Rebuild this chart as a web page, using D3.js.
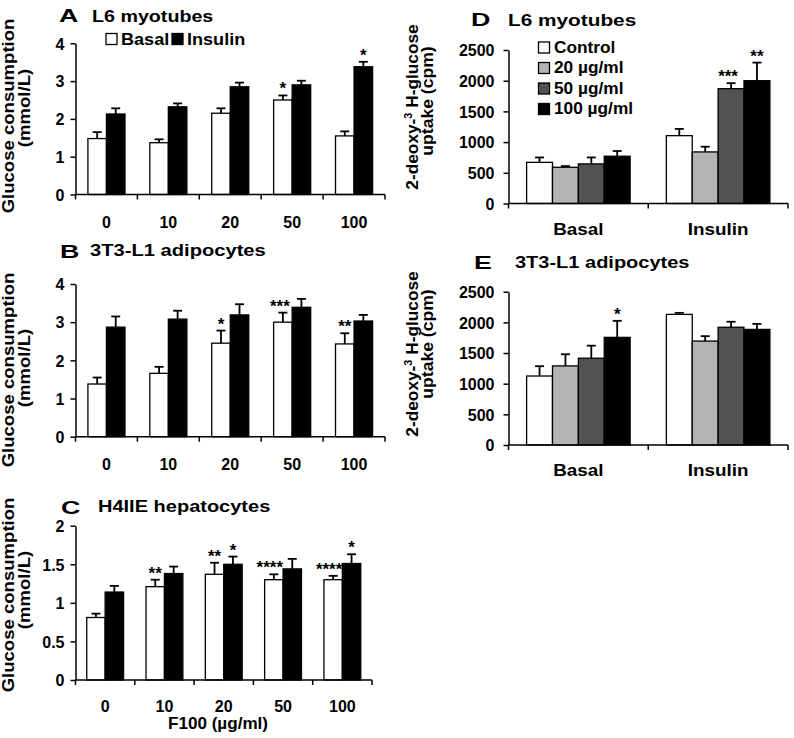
<!DOCTYPE html>
<html><head><meta charset="utf-8">
<script src="https://cdn.jsdelivr.net/npm/d3@7"></script>
<style>
body{margin:0;background:#fff}
svg text{font-family:"Liberation Sans",Arial,Helvetica,sans-serif;font-weight:bold;fill:#000}
</style>
</head><body>
<svg id="chart" width="794" height="738"></svg>
<script>
// ---------------- DATA ----------------
const doses = ["0", "10", "20", "50", "100"];
const acSeries = ["Basal", "Insulin"];

// Panel A: L6 myotubes, glucose consumption (mmol/L)
const aBasal      = [1.48, 1.37, 2.15, 2.50, 1.55];
const aBasalErr   = [0.17, 0.09, 0.13, 0.12, 0.12];
const aBasalSig   = ["", "", "", "*", ""];
const aInsulin    = [2.13, 2.32, 2.85, 2.90, 3.38];
const aInsulinErr = [0.15, 0.09, 0.11, 0.11, 0.13];
const aInsulinSig = ["", "", "", "", "*"];

// Panel B: 3T3-L1 adipocytes
const bBasal      = [1.38, 1.66, 2.45, 3.00, 2.43];
const bBasalErr   = [0.17, 0.17, 0.33, 0.25, 0.28];
const bBasalSig   = ["", "", "*", "***", "**"];
const bInsulin    = [2.87, 3.08, 3.19, 3.39, 3.03];
const bInsulinErr = [0.28, 0.22, 0.28, 0.22, 0.16];
const bInsulinSig = ["", "", "", "", ""];

// Panel C: H4IIE hepatocytes
const cBasal      = [0.81, 1.21, 1.37, 1.30, 1.30];
const cBasalErr   = [0.05, 0.09, 0.15, 0.07, 0.05];
const cBasalSig   = ["", "**", "**", "****", "****"];
const cInsulin    = [1.14, 1.38, 1.50, 1.44, 1.51];
const cInsulinErr = [0.08, 0.09, 0.10, 0.13, 0.12];
const cInsulinSig = ["", "", "*", "", "*"];

const acTicks = [0, 1, 2, 3, 4];
const cTicks = [0, 0.5, 1, 1.5, 2];

// Panels D/E: 2-deoxy-3H-glucose uptake (cpm)
const deGroups = ["Basal", "Insulin"];
const deSeries = ["Control", "20 µg/ml", "50 µg/ml", "100 µg/ml"];

const dControl = [670, 1105];   const dControlErr = [80, 110];  const dControlSig = ["", ""];
const d20      = [590, 840];    const d20Err      = [20, 85];   const d20Sig      = ["", ""];
const d50      = [645, 1870];   const d50Err      = [105, 90];  const d50Sig      = ["", "***"];
const d100     = [770, 2000];   const d100Err     = [85, 295];  const d100Sig     = ["", "**"];

const eControl = [1125, 2130];  const eControlErr = [160, 25];  const eControlSig = ["", ""];
const e20      = [1290, 1695];  const e20Err      = [190, 80];  const e20Sig      = ["", ""];
const e50      = [1415, 1920];  const e50Err      = [205, 90];  const e50Sig      = ["", ""];
const e100     = [1755, 1885];  const e100Err     = [270, 90];  const e100Sig     = ["*", ""];

const deTicks = [0, 500, 1000, 1500, 2000, 2500];

// ---------------- STYLE ----------------
const acFills = ["#ffffff", "#000000"];
const deFills = ["#ffffff", "#b4b4b4", "#525252", "#000000"];

const svg = d3.select("#chart");

function stext(parent, x, y, str, size, sx, anchor, rot) {
  const g = parent.append("g")
    .attr("transform", `translate(${x},${y}) rotate(${rot || 0}) scale(${sx || 1},1)`);
  return g.append("text").attr("x", 0).attr("y", 0)
    .attr("font-size", size).attr("text-anchor", anchor || "start").text(str);
}

function panel(cfg) {
  const g = svg.append("g");
  const y = d3.scaleLinear().domain([0, cfg.yMax]).range([cfg.yBottom, cfg.yTop]);
  const x = d3.scaleBand().domain(cfg.categories).range([cfg.x0, cfg.x1]).padding(0);
  const inner = d3.scaleBand().domain(cfg.series).range([0, x.bandwidth()])
    .paddingInner(0).paddingOuter(cfg.outerPad);

  const rows = [];
  cfg.categories.forEach((c, ci) => {
    cfg.series.forEach((s, si) => {
      rows.push({c, s, si, v: cfg.values[si][ci], e: cfg.errs[si][ci], sig: cfg.sigs[si][ci]});
    });
  });

  const eb = g.append("g").attr("stroke", "#000").attr("stroke-width", 1.8);
  rows.forEach(r => {
    const cx = x(r.c) + inner(r.s) + inner.bandwidth() / 2;
    eb.append("line").attr("x1", cx).attr("x2", cx).attr("y1", y(r.v)).attr("y2", y(r.v + r.e));
    eb.append("line").attr("x1", cx - 4.5).attr("x2", cx + 4.5).attr("y1", y(r.v + r.e)).attr("y2", y(r.v + r.e));
  });

  g.append("g").selectAll("rect").data(rows).join("rect")
    .attr("x", d => x(d.c) + inner(d.s))
    .attr("y", d => y(d.v))
    .attr("width", inner.bandwidth())
    .attr("height", d => y(0) - y(d.v))
    .attr("fill", d => cfg.fills[d.si])
    .attr("stroke", "#000").attr("stroke-width", 1.3);

  rows.filter(r => r.sig).forEach(r => {
    const left = x(r.c) + inner(r.s);
    const cx = left + inner.bandwidth() / 2;
    const long = r.sig.length > 3;
    const mid = r.sig.length === 3;
    g.append("text")
      .attr("x", long ? left + inner.bandwidth() : (mid ? cx - 3 : cx))
      .attr("y", y(r.v + r.e) - 1)
      .attr("text-anchor", long ? "end" : "middle")
      .attr("font-size", 17).text(r.sig);
  });

  const ya = g.append("g").attr("transform", `translate(${cfg.x0},0)`)
    .call(d3.axisLeft(y).tickValues(cfg.yTicks).tickSize(5).tickSizeOuter(0)
      .tickPadding(cfg.tickPad).tickFormat(d => String(d)));
  ya.selectAll("path,line").attr("stroke", "#000").attr("stroke-width", 1.5);
  ya.selectAll("text").attr("font-size", 16).attr("font-family", null).attr("dy", "0.36em");
  ya.attr("font-family", null).attr("font-size", null);

  const xa = g.append("g");
  xa.append("line").attr("x1", cfg.x0).attr("x2", cfg.x1).attr("y1", y(0)).attr("y2", y(0))
    .attr("stroke", "#000").attr("stroke-width", 1.5);
  const bounds = cfg.categories.map(c => x(c)).concat([cfg.x1]);
  xa.selectAll("line.b").data(bounds).join("line").attr("class", "b")
    .attr("x1", d => d).attr("x2", d => d).attr("y1", y(0)).attr("y2", y(0) + 5)
    .attr("stroke", "#000").attr("stroke-width", 1.5);
  cfg.categories.forEach(c => {
    stext(g, x(c) + x.bandwidth() / 2, y(0) + cfg.labelOff, c, 16, cfg.catSx, "middle");
  });
  return {x, y, g};
}

// ---------------- PANEL A ----------------
panel({x0: 75.5, x1: 385, yTop: 43.3, yBottom: 194.5, yMax: 4, yTicks: acTicks,
  categories: doses, series: acSeries, outerPad: 0.67,
  values: [aBasal, aInsulin], errs: [aBasalErr, aInsulinErr], sigs: [aBasalSig, aInsulinSig],
  fills: acFills, tickPad: 6, labelOff: 33, catSx: 1.0});
stext(svg, 59, 22, "A", 18.5, 1.45);
stext(svg, 92, 21.5, "L6 myotubes", 16, 1.23);
acSeries.forEach((s, i) => {
  const lx = [106, 172][i];
  svg.append("rect").attr("x", lx).attr("y", 33.5).attr("width", 11).attr("height", 11)
    .attr("fill", acFills[i]).attr("stroke", "#000").attr("stroke-width", 1.3);
  stext(svg, lx + 15, 44.5, s, 16, 1.13);
});
stext(svg, 14, 116, "Glucose consumption", 16, 1.16, "middle", -90);
stext(svg, 30, 108, "(mmol/L)", 16, 1.16, "middle", -90);

// ---------------- PANEL B ----------------
panel({x0: 75.5, x1: 385, yTop: 284, yBottom: 436.7, yMax: 4, yTicks: acTicks,
  categories: doses, series: acSeries, outerPad: 0.67,
  values: [bBasal, bInsulin], errs: [bBasalErr, bInsulinErr], sigs: [bBasalSig, bInsulinSig],
  fills: acFills, tickPad: 6, labelOff: 33, catSx: 1.0});
stext(svg, 60, 257.5, "B", 18.5, 1.45);
stext(svg, 90, 256, "3T3-L1 adipocytes", 16, 1.26);
stext(svg, 14, 370, "Glucose consumption", 16, 1.16, "middle", -90);
stext(svg, 30, 368, "(mmol/L)", 16, 1.16, "middle", -90);

// ---------------- PANEL C ----------------
panel({x0: 75.5, x1: 372, yTop: 525.7, yBottom: 680, yMax: 2, yTicks: cTicks,
  categories: doses, series: acSeries, outerPad: 0.61,
  values: [cBasal, cInsulin], errs: [cBasalErr, cInsulinErr], sigs: [cBasalSig, cInsulinSig],
  fills: acFills, tickPad: 6, labelOff: 32, catSx: 1.0});
stext(svg, 61, 513.5, "C", 18.5, 1.45);
stext(svg, 98, 512, "H4IIE hepatocytes", 16, 1.25);
stext(svg, 218, 729, "F100 (µg/ml)", 16, 1.07, "middle");
stext(svg, 14, 595, "Glucose consumption", 16, 1.16, "middle", -90);
stext(svg, 30, 590, "(mmol/L)", 16, 1.16, "middle", -90);

// ---------------- PANEL D ----------------
function deLabel(x1, y1, x2, y2) {
  const g = svg.append("g").attr("transform", `translate(${x1},${y1}) rotate(-90) scale(1.08,1)`);
  const t = g.append("text").attr("font-size", 16).attr("text-anchor", "middle");
  t.append("tspan").text("2-deoxy-");
  t.append("tspan").attr("font-size", 10).attr("dy", -6).text("3");
  t.append("tspan").attr("dy", 6).text(" H-glucose");
  stext(svg, x2, y2, "uptake (cpm)", 16, 1.1, "middle", -90);
}
panel({x0: 508.5, x1: 788, yTop: 50, yBottom: 203.5, yMax: 2500, yTicks: deTicks,
  categories: deGroups, series: deSeries, outerPad: 0.7,
  values: [dControl, d20, d50, d100], errs: [dControlErr, d20Err, d50Err, d100Err],
  sigs: [dControlSig, d20Sig, d50Sig, d100Sig],
  fills: deFills, tickPad: 9, labelOff: 31, catSx: 1.18});
stext(svg, 471, 26, "D", 18.5, 1.45);
stext(svg, 508, 25.5, "L6 myotubes", 16, 1.3);
deLabel(418, 107, 433, 101);
const legBase = [52.5, 73, 93.5, 114];
deSeries.forEach((s, i) => {
  svg.append("rect").attr("x", 538.5).attr("y", legBase[i] - 10.5).attr("width", 11).attr("height", 11)
    .attr("fill", deFills[i]).attr("stroke", "#000").attr("stroke-width", 1.3);
  stext(svg, 554, legBase[i], s, 16, 1.08);
});

// ---------------- PANEL E ----------------
panel({x0: 508.5, x1: 788, yTop: 291.7, yBottom: 445, yMax: 2500, yTicks: deTicks,
  categories: deGroups, series: deSeries, outerPad: 0.7,
  values: [eControl, e20, e50, e100], errs: [eControlErr, e20Err, e50Err, e100Err],
  sigs: [eControlSig, e20Sig, e50Sig, e100Sig],
  fills: deFills, tickPad: 9, labelOff: 31, catSx: 1.18});
stext(svg, 474, 268.5, "E", 18.5, 1.45);
stext(svg, 515, 268, "3T3-L1 adipocytes", 16, 1.25);
deLabel(418, 354, 433, 344);
</script>
</body></html>
